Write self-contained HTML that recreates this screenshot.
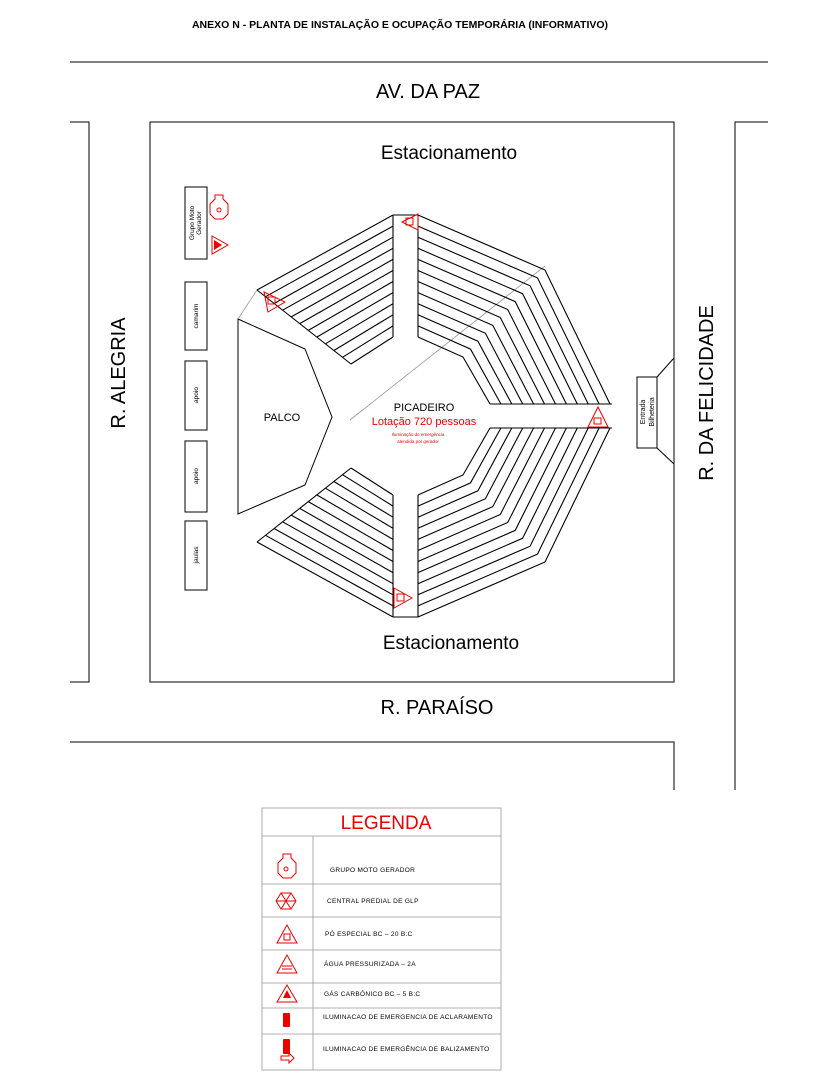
<!DOCTYPE html>
<html><head><meta charset="utf-8"><style>
body{margin:0;background:#fff;width:839px;height:1086px;overflow:hidden}
svg{display:block;font-family:"Liberation Sans",sans-serif}
</style></head><body>
<svg width="839" height="1086" viewBox="0 0 839 1086" xmlns="http://www.w3.org/2000/svg">
<text x="400" y="28" font-size="10.5" font-weight="bold" text-anchor="middle">ANEXO N - PLANTA DE INSTALAÇÃO E OCUPAÇÃO TEMPORÁRIA (INFORMATIVO)</text>
<g stroke="#000" stroke-width="1" fill="none">
<line x1="70" y1="62" x2="768" y2="62"/>
<rect x="150" y="122" width="524" height="560"/>
<polyline points="70,122 89,122 89,682 70,682"/>
<polyline points="768,122 735,122 735,790"/>
<polyline points="70,742 674,742 674,790"/>
<rect x="637" y="377" width="20" height="71"/>
<line x1="657" y1="377" x2="674" y2="358"/>
<line x1="657" y1="448" x2="674" y2="464"/>
<polygon points="238,319 305,349 332,417 305,485 238,514"/>
<rect x="185" y="187" width="22" height="72"/>
<rect x="185" y="282" width="22" height="68"/>
<rect x="185" y="361" width="22" height="69"/>
<rect x="185" y="441" width="22" height="71"/>
<rect x="185" y="521" width="22" height="69"/>
</g>
<g stroke="#999" stroke-width="0.8">
<line x1="350" y1="420" x2="545" y2="266"/>
<line x1="238" y1="319" x2="257" y2="290"/>
</g>
<g stroke="#000" stroke-width="1.1" fill="none">
<!-- upper-left rows -->
<line x1="393" y1="215" x2="257" y2="290"/>
<line x1="393" y1="226.1" x2="265.5" y2="296.7"/>
<line x1="393" y1="237.2" x2="274.1" y2="303.5"/>
<line x1="393" y1="248.3" x2="282.6" y2="310.2"/>
<line x1="393" y1="259.4" x2="291.2" y2="316.9"/>
<line x1="393" y1="270.5" x2="299.7" y2="323.6"/>
<line x1="393" y1="281.5" x2="308.3" y2="330.4"/>
<line x1="393" y1="292.6" x2="316.8" y2="337.1"/>
<line x1="393" y1="303.7" x2="325.4" y2="343.8"/>
<line x1="393" y1="314.8" x2="333.9" y2="350.5"/>
<line x1="393" y1="325.9" x2="342.5" y2="357.3"/>
<line x1="393" y1="337" x2="351" y2="364"/>
<line x1="257" y1="290" x2="351" y2="364"/>
<!-- lower-left rows -->
<line x1="393" y1="617" x2="257" y2="542"/>
<line x1="393" y1="605.9" x2="265.5" y2="535.3"/>
<line x1="393" y1="594.8" x2="274.1" y2="528.5"/>
<line x1="393" y1="583.7" x2="282.6" y2="521.8"/>
<line x1="393" y1="572.6" x2="291.2" y2="515.1"/>
<line x1="393" y1="561.5" x2="299.7" y2="508.4"/>
<line x1="393" y1="550.5" x2="308.3" y2="501.6"/>
<line x1="393" y1="539.4" x2="316.8" y2="494.9"/>
<line x1="393" y1="528.3" x2="325.4" y2="488.2"/>
<line x1="393" y1="517.2" x2="333.9" y2="481.5"/>
<line x1="393" y1="506.1" x2="342.5" y2="474.7"/>
<line x1="393" y1="495" x2="351" y2="468"/>
<line x1="257" y1="542" x2="351" y2="468"/>
<!-- aisles -->
<line x1="393" y1="215" x2="393" y2="337"/><line x1="418" y1="215" x2="418" y2="337"/>
<line x1="393" y1="495" x2="393" y2="617"/><line x1="418" y1="495" x2="418" y2="617"/>
<line x1="393" y1="215" x2="418" y2="215"/><line x1="393" y1="617" x2="418" y2="617"/>
<line x1="490" y1="404" x2="612" y2="404"/><line x1="490" y1="428" x2="612" y2="428"/>
<!-- upper-right chevrons -->
<polyline points="418,215 545,270 610,404"/>
<polyline points="418,226.1 537.5,277.9 599.1,404"/>
<polyline points="418,237.2 530.1,285.8 588.2,404"/>
<polyline points="418,248.3 522.6,293.7 577.3,404"/>
<polyline points="418,259.4 515.2,301.6 566.4,404"/>
<polyline points="418,270.5 507.7,309.5 555.5,404"/>
<polyline points="418,281.5 500.3,317.5 544.5,404"/>
<polyline points="418,292.6 492.8,325.4 533.6,404"/>
<polyline points="418,303.7 485.4,333.3 522.7,404"/>
<polyline points="418,314.8 477.9,341.2 511.8,404"/>
<polyline points="418,325.9 470.5,349.1 500.9,404"/>
<polyline points="418,337 463,357 490,404"/>
<!-- lower-right chevrons -->
<polyline points="418,617 545,562 610,428"/>
<polyline points="418,605.9 537.5,554.1 599.1,428"/>
<polyline points="418,594.8 530.1,546.2 588.2,428"/>
<polyline points="418,583.7 522.6,538.3 577.3,428"/>
<polyline points="418,572.6 515.2,530.4 566.4,428"/>
<polyline points="418,561.5 507.7,522.5 555.5,428"/>
<polyline points="418,550.5 500.3,514.5 544.5,428"/>
<polyline points="418,539.4 492.8,506.6 533.6,428"/>
<polyline points="418,528.3 485.4,498.7 522.7,428"/>
<polyline points="418,517.2 477.9,490.8 511.8,428"/>
<polyline points="418,506.1 470.5,482.9 500.9,428"/>
<polyline points="418,495 463,475 490,428"/>
</g>
<text x="449" y="159" font-size="19" text-anchor="middle">Estacionamento</text>
<text x="451" y="649" font-size="19" text-anchor="middle">Estacionamento</text>
<text x="428" y="98" font-size="20" text-anchor="middle">AV. DA PAZ</text>
<text x="437" y="714" font-size="20" text-anchor="middle">R. PARAÍSO</text>
<text transform="translate(125,373) rotate(-90)" font-size="20" text-anchor="middle">R. ALEGRIA</text>
<text transform="translate(713,393) rotate(-90)" font-size="20" text-anchor="middle">R. DA FELICIDADE</text>
<text x="282" y="421" font-size="11" text-anchor="middle">PALCO</text>
<text x="424" y="411" font-size="11" text-anchor="middle">PICADEIRO</text>
<text x="424" y="425" font-size="11" fill="#e00" text-anchor="middle">Lotação 720 pessoas</text>
<text x="418" y="436" font-size="4.5" fill="#e00" text-anchor="middle">Iluminação de emergência</text>
<text x="418" y="443" font-size="4.5" fill="#e00" text-anchor="middle">atendida por gerador</text>
<text transform="translate(645,412) rotate(-90)" font-size="7" text-anchor="middle">Entrada</text>
<text transform="translate(654,412) rotate(-90)" font-size="7" text-anchor="middle">Bilheteria</text>
<g font-size="6.5" text-anchor="middle">
<text transform="translate(194,223) rotate(-90)">Grupo Moto</text>
<text transform="translate(201,223) rotate(-90)">Gerador</text>
<text transform="translate(198,316) rotate(-90)">camarim</text>
<text transform="translate(198,395) rotate(-90)">apoio</text>
<text transform="translate(198,476) rotate(-90)">apoio</text>
<text transform="translate(198,555) rotate(-90)">jaulas</text>
</g>
<g stroke="#e00" fill="none" stroke-width="1">
<polygon points="215,195 223,195 223,199 228,204 228,214 223,219 215,219 210,214 210,204 215,199"/>
<circle cx="219" cy="210" r="2"/>
<polygon points="212,236 228,245 212,254"/>
<polygon points="402,222 418,214 418,230"/>
<rect x="406" y="218" width="7" height="7"/>
<polygon points="264,292 285,302 268,312"/>
<rect x="268" y="297" width="7" height="7"/>
<polygon points="394,588 412,598 394,608"/>
<rect x="397" y="594" width="7" height="7"/>
<polygon points="598,407 588,427 608,427"/>
<rect x="594" y="418" width="7" height="6"/>
</g>
<polygon points="214,240 222,245 214,250" fill="#e00"/>
<!-- legend -->
<g stroke="#999" fill="none" stroke-width="0.8">
<rect x="262" y="808" width="239" height="262"/>
<line x1="262" y1="836" x2="501" y2="836"/>
<line x1="313" y1="836" x2="313" y2="1070"/>
<line x1="262" y1="884" x2="501" y2="884"/>
<line x1="262" y1="917" x2="501" y2="917"/>
<line x1="262" y1="950" x2="501" y2="950"/>
<line x1="262" y1="983" x2="501" y2="983"/>
<line x1="262" y1="1008" x2="501" y2="1008"/>
<line x1="262" y1="1034" x2="501" y2="1034"/>
</g>
<text x="386" y="829" font-size="19" fill="#e00" text-anchor="middle">LEGENDA</text>
<g font-size="6.5" letter-spacing="0.3">
<text x="330" y="872">GRUPO MOTO GERADOR</text>
<text x="327" y="903">CENTRAL PREDIAL DE GLP</text>
<text x="325" y="936">PÓ ESPECIAL BC – 20 B:C</text>
<text x="324" y="966">ÁGUA PRESSURIZADA – 2A</text>
<text x="324" y="996">GÁS CARBÔNICO BC – 5 B:C</text>
<text x="323" y="1019">ILUMINACAO DE EMERGENCIA DE ACLARAMENTO</text>
<text x="323" y="1051">ILUMINACAO DE EMERGÊNCIA DE BALIZAMENTO</text>
</g>
<g stroke="#e00" fill="none" stroke-width="1">
<polygon points="283,854 291,854 291,858 296,863 296,873 291,878 283,878 278,873 278,863 283,858"/>
<circle cx="286" cy="869" r="2"/>
<polygon points="281,893 291,893 296,901 291,909 281,909 276,901"/>
<line x1="276" y1="901" x2="296" y2="901"/><line x1="281" y1="893" x2="291" y2="909"/><line x1="291" y1="893" x2="281" y2="909"/>
<polygon points="287,925 277,943 297,943"/>
<rect x="284" y="934" width="6" height="6"/>
<polygon points="287,955 277,973 297,973"/>
<line x1="282" y1="966" x2="292" y2="966"/><line x1="282" y1="969" x2="292" y2="969"/>
<polygon points="287,985 277,1002 297,1002"/>
</g>
<polygon points="287,990 283,998 291,998" fill="#e00"/>
<g fill="#e00"><rect x="283" y="1013" width="7" height="14" rx="1"/><rect x="283" y="1039" width="7" height="15" rx="1"/></g>
<g stroke="#e00" fill="none"><polygon points="281,1056 289,1056 289,1053 294,1058 289,1063 289,1060 281,1060"/></g>
</svg>
</body></html>
